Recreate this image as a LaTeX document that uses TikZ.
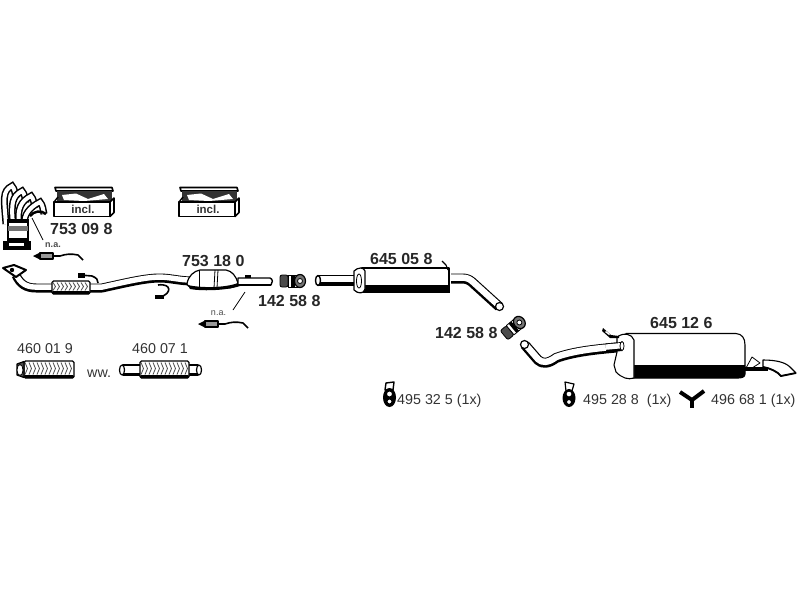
\documentclass[tikz,border=0pt]{standalone}
\usepackage{fontspec}
\setmainfont{Liberation Sans}
\newcommand{\pipepath}[2]{% outer width, path
  \draw[line width=#1pt, draw=black, line join=round] #2;
  \pgfmathsetmacro{\innerw}{#1-3.6}
  \draw[line width=\innerw pt, draw=white, line join=round, shift={(0,-0.9)}] #2;
}
\newcommand{\flexbraid}[4]{% x0, x1, ytop, ybottom
  \draw[partline, fill=white, line width=1.3pt, rounded corners=1.5pt] (#1,#3) rectangle (#2,#4);
  \fill[black, rounded corners=1pt] (#1,#4-3) rectangle (#2,#4);
  \pgfmathtruncatemacro{\xsecond}{#1+4}
  \pgfmathtruncatemacro{\xlast}{#2-4}
  \foreach \xb in {#1,\xsecond,...,\xlast} {
    \draw[black!70, line width=0.8pt] (\xb+1,#3+1.5) -- (\xb+3.5,{(#3+#4)/2-1}) -- (\xb+1,#4-3.5);
  }
}
\newcommand{\sensorpart}[2]{% x, y of the tip
  \begin{scope}[shift={(#1,#2)}]
    \fill (0,0) -- (7,-3.5) -- (7,3.5) -- cycle;
    \draw[partline, fill=black!40, line width=1.2pt] (7,-3) rectangle (20,3);
    \draw[partline, line width=1.6pt] (20,0) -- (27,0) .. controls (33,-2) and (38,-2.5) .. (45,-1) -- (50,4);
  \end{scope}
}
\newcommand{\clampring}[2]{% x, y of the centre
  \begin{scope}[shift={(#1,#2)}]
    \draw[partline, fill=black!70, rounded corners=2pt] (-13,-6) rectangle (-5,6);
    \draw[partline, fill=white] (-5,-6) rectangle (5,6);
    \fill (-2,-6) rectangle (1.5,6);
    \draw[partline, fill=black!55, line width=1.2pt] (7,0) ellipse (5.5 and 6.5);
    \draw[partline, fill=white] (7,0) circle (2.5);
  \end{scope}
}
\newcommand{\inclbox}[1]{% x of the left edge
  \begin{scope}[shift={(#1,0)}]
    \draw[partline, line width=1.6pt] (1,187.5) -- (58,187.5) -- (59,191) -- (2,191) -- cycle;
    \fill[black!80] (3,191) -- (58,191) -- (58,202) -- (3,202) -- cycle;
    \fill[white] (8,195) -- (22,193.5) -- (34,199) -- (50,194) -- (54,199) -- (30,201) -- (10,200) -- cycle;
    \draw[partline, fill=white, line width=1.6pt] (0,202) rectangle (56,216.5);
    \draw[partline, line width=1.6pt, fill=white] (56,202) -- (60,198) -- (60,212.5) -- (56,216.5) -- cycle;
    \draw[partline, line width=1.4pt] (0,202) -- (4,197);
    \node[inclt] (incl#1) at (29,209.5) {incl.};
  \end{scope}
}
\begin{document}
\begin{tikzpicture}[
x=1pt, y=-1pt,
partline/.style={draw=black, line width=0.8pt, line join=round},
partno/.style={font=\bfseries\fontsize{16}{16}\selectfont, text=black!85, inner sep=0pt, anchor=west},
partnr/.style={font=\fontsize{14.3}{15}\selectfont, text=black!80, inner sep=0pt, anchor=west},
nat/.style={font=\bfseries\fontsize{9}{9}\selectfont, text=black!70, inner sep=0pt},
inclt/.style={font=\bfseries\fontsize{11.5}{12}\selectfont, text=black!80, inner sep=0pt},
]
\useasboundingbox (0,0) rectangle (800,600);

% manifold and first catalyst
\foreach \xa/\ya/\xe in {12/185/6, 22/190/13, 31/195/19, 40/201/25} {
  \draw[line width=7pt, black] (\xe,224) .. controls (\xe-2,\ya+14) and (\xa-10,\ya+6) .. (\xa,\ya+1) .. controls (\xa+3,\ya+4) and (\xa+3,\ya+9) .. (\xa+4,\ya+13);
  \draw[line width=4pt, white] (\xe,224) .. controls (\xe-2,\ya+14) and (\xa-10,\ya+6) .. (\xa,\ya+1) .. controls (\xa+3,\ya+4) and (\xa+3,\ya+9) .. (\xa+4,\ya+13);
}
\draw[line width=2.5pt] (30,216) .. controls (34,211) and (41,210) .. (46,214);
\draw[partline, fill=white, line width=1.4pt] (8,220) rectangle (28,240);
\fill[black!55] (8,226) rectangle (28,231);
\fill (7,219) rectangle (29,223);
\fill (7,238) rectangle (29,243);
\fill (3,241) rectangle (9,250);
\fill (24,241) rectangle (31,250);
\fill (8,246) rectangle (26,250);

\inclbox{54}
\inclbox{179}

\node[partno] (n753098) at (50,228.5) {753 09 8};
\node[nat] (na1) at (53,245) {n.a.};
\coordinate (cat1) at (32,218);
\coordinate (na1end) at (43,240);
\draw[partline] (cat1) -- (na1end);
\sensorpart{33}{256}

% front pipe with catalyst
\pipepath{9}{(16,275) .. controls (20,284) and (26,288) .. (36,288) -- (60,288)}
\pipepath{9}{(85,288) -- (102,288) .. controls (125,283) and (145,278) .. (160,278) .. controls (170,278) and (180,281) .. (192,281)}
\draw[partline, line width=2pt, fill=white] (3,268) -- (14,265) -- (26,270) -- (16,277) -- cycle;
\fill (12,270) circle (2.2);
\flexbraid{52}{90}{281}{294}
\draw[partline, line width=1.6pt] (80,275) -- (92,276) .. controls (97,278) and (98,280) .. (98,283);
\fill (78,273) rectangle (85,278);
\draw[partline, line width=1.6pt] (158,285) .. controls (172,283) and (172,294) .. (160,297);
\fill (155,295) rectangle (164,299);

\draw[partline, fill=white, line width=1.2pt] (187,284) .. controls (188,276) and (194,271) .. (200,270) -- (226,270) .. controls (232,271) and (236,276) .. (238,283) .. controls (236,287) and (232,288) .. (226,288) -- (198,288) .. controls (192,288) and (188,287) .. (187,284) -- cycle;
\fill (188,285) .. controls (200,288) and (225,288) .. (238,283) -- (240,286) .. controls (225,291) and (200,291) .. (190,289) -- cycle;
\draw[partline] (199,270) -- (199,287);
\draw[partline] (215,270) -- (214,288);
\draw[partline] (218,270) -- (217,288);
\draw[partline, fill=white, line width=1.4pt] (238,278) -- (270,278) .. controls (273,279) and (273,283) .. (271,285) -- (238,285) -- cycle;
\fill (238,284) rectangle (271,286);
\fill (245,275) rectangle (251,278);
\node[partno] (n753180) at (182,261) {753 18 0};

\clampring{293}{281}
\node[partno] (n142588a) at (258,300.5) {142 58 8};

\node[nat, font=\fontsize{9}{9}\selectfont] (na2) at (218.5,313) {n.a.};
\coordinate (pipe1) at (245,292);
\coordinate (na2end) at (233,310);
\draw[partline] (na2end) -- (pipe1);
\sensorpart{198}{324}

% centre silencer
\draw[partline, fill=white, line width=1.2pt] (318,275.5) -- (362,275.5) -- (362,285) -- (318,285) -- cycle;
\fill (318,282) rectangle (362,285.5);
\draw[partline, fill=white, line width=1.4pt] (318,280.5) ellipse (2.5 and 5);
\draw[partline, fill=white, line width=1.1pt] (362,268) rectangle (449,292);
\fill (362,285) rectangle (450,293);
\draw[partline, fill=white, line width=1.2pt] (354,271) .. controls (358,267) and (364,267) .. (365,271) -- (365,289) .. controls (364,294) and (358,294) .. (354,290) -- cycle;
\draw[partline, fill=white] (359,281) ellipse (2.5 and 7);
\draw[partline, line width=1.1pt] (442,261) -- (446,265) -- (448,270);
\pipepath{10}{(451,278.5) -- (462,278.5) .. controls (466,278.5) and (469,279.5) .. (472,282) -- (499,306.5)}
\draw[partline, fill=white, line width=1.2pt] (499.5,306.5) circle (4);
\node[partno] (n645058) at (370,258.5) {645 05 8};
\begin{scope}[shift={(514,327)}, rotate=40]
  \clampring{0}{0}
\end{scope}
\node[partno] (n142588b) at (435,332.5) {142 58 8};

% rear silencer
\pipepath{10}{(525,345) -- (538,360) .. controls (542,364) and (548,364) .. (556,358) .. controls (575,351) and (600,349) .. (622,347)}
\draw[partline, fill=white, line width=1.2pt] (524.5,344.5) circle (4);
\draw[partline, fill=white, line width=1.1pt] (626,333.5) -- (736,333.5) .. controls (742,334) and (745,338) .. (745,345) -- (745,374) .. controls (745,377) and (742,378) .. (738,378) -- (626,378) -- cycle;
\fill (632,365) -- (745,365) -- (745,374) .. controls (745,377) and (742,378) .. (738,378) -- (632,378) -- cycle;
\draw[partline, fill=white, line width=1.1pt] (617,337) .. controls (624,332) and (632,334) .. (634,340) -- (634,378) .. controls (628,380) and (622,378) .. (616,372) -- (614,365) -- (617,352) -- cycle;
\pipepath{9}{(606,348) -- (622,346.5)}
\fill (603,328) -- (611,335) -- (619,336) -- (619,338) -- (610,338) -- (602,331) -- cycle;
\fill[white] (606,331) -- (610,334) -- (609,335) -- (605,332) -- cycle;
\draw[partline, fill=white] (622,346) ellipse (2 and 4.5);
\draw[partline, fill=white] (746,368) -- (752,357) -- (760,363) -- (752,368) -- cycle;
\fill (745,367) rectangle (768,371);
\draw[partline, fill=white, line width=1.1pt] (763,360) .. controls (775,360) and (785,362) .. (790,367) -- (796,373) -- (781,376) .. controls (778,372) and (770,368) .. (763,367) -- cycle;
\draw[line width=1.8pt] (763,367) .. controls (770,368) and (778,372) .. (781,376) -- (796,373);
\node[partno] (n645126) at (650,322.5) {645 12 6};

% flex pipes
\flexbraid{24}{74}{361}{378}
\draw[partline, fill=black!70, line width=1.2pt] (17,364) -- (24,361.5) -- (24,377.5) -- (17,375) -- cycle;
\draw[partline, fill=white] (20,370) ellipse (3 and 5.5);
\node[partnr] (n460019) at (17,348.5) {460 01 9};
\draw[partline, fill=white, line width=1.4pt] (123,365) rectangle (198,375);
\fill (123,373) rectangle (198,376);
\flexbraid{140}{189}{361}{378}
\draw[partline, fill=white, line width=1.2pt] (122,370) ellipse (2.5 and 5);
\draw[partline, fill=white, line width=1.2pt] (199,370) ellipse (2.5 and 5);
\node[partnr] (n460071) at (132,348.5) {460 07 1};
\node[partnr] (www) at (87,374) {ww.};

% hangers
\draw[partline, line width=1.4pt, fill=white] (386,383) -- (394,382) -- (393,390) -- (385,390) -- cycle;
\fill[even odd rule] (389.5,397.5) ellipse (6.5 and 9.5) (389.5,394) circle (2.5) (389.5,401.5) circle (2);
\node[partnr] (n495325) at (397,401) {495 32 5 (1x)};
\draw[partline, line width=1.2pt, fill=white] (565,382) -- (574,384) -- (572,391) -- (566,391) -- cycle;
\fill[even odd rule] (569,398) ellipse (6.5 and 9) (569,394) circle (2.5) (569,402) circle (2);
\node[partnr] (n495288) at (583,401) {495 28 8\ \ (1x)};
\draw[line width=4pt, line join=round] (680,392) -- (692,400) -- (704,391);
\draw[line width=4pt] (692,400) -- (692,408);
\node[partnr] (n496681) at (711,401) {496 68 1 (1x)};
\end{tikzpicture}
\end{document}
